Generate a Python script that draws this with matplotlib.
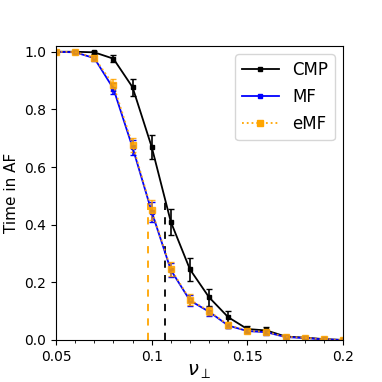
import matplotlib
matplotlib.use("Agg")
import matplotlib.pyplot as plt
from matplotlib.ticker import MultipleLocator
from matplotlib.lines import Line2D

nu = [0.05, 0.06, 0.07, 0.08, 0.09, 0.10, 0.11, 0.12, 0.13, 0.14, 0.15, 0.16, 0.17, 0.18, 0.19, 0.20]
cmp_y = [1.0, 1.0, 0.998, 0.976, 0.877, 0.670, 0.410, 0.245, 0.148, 0.079, 0.038, 0.033, 0.012, 0.008, 0.003, 0.0]
cmp_err = [0.0, 0.003, 0.005, 0.012, 0.03, 0.042, 0.045, 0.04, 0.03, 0.02, 0.012, 0.012, 0.005, 0.004, 0.002, 0.0]
mf_y = [1.0, 0.998, 0.978, 0.872, 0.668, 0.445, 0.243, 0.137, 0.098, 0.050, 0.031, 0.027, 0.010, 0.007, 0.002, 0.0]
mf_err = [0.0, 0.003, 0.01, 0.02, 0.025, 0.035, 0.025, 0.018, 0.015, 0.01, 0.008, 0.008, 0.004, 0.003, 0.001, 0.0]
emf_y = [1.0, 0.999, 0.980, 0.885, 0.677, 0.450, 0.247, 0.140, 0.100, 0.052, 0.032, 0.028, 0.011, 0.008, 0.002, 0.0]
emf_err = [0.0, 0.003, 0.01, 0.02, 0.025, 0.035, 0.025, 0.018, 0.015, 0.01, 0.008, 0.008, 0.004, 0.003, 0.001, 0.0]
thr_x = [0.107, 0.0979]
thr_h = [0.48, 0.475]
thr_colors = ["black", "orange"]

fig = plt.figure(figsize=(3.82, 3.82), dpi=100)
ax = fig.add_axes([0.1466, 0.11, 0.7514, 0.7696])

ax.errorbar(nu, cmp_y, yerr=cmp_err, color="black", marker="s", markersize=3,
            lw=1.3, capsize=2.5, elinewidth=1.2)
ax.errorbar(nu, mf_y, yerr=mf_err, color="blue", marker="s", markersize=3,
            lw=1.3, capsize=2.5, elinewidth=1.2)
ax.errorbar(nu, emf_y, yerr=emf_err, color="orange", marker="s", markersize=4,
            lw=1.3, ls=":", capsize=2.5, elinewidth=1.2, alpha=0.85)
for x, h, c in zip(thr_x, thr_h, thr_colors):
    ax.vlines(x, 0, h, colors=c, linestyles=(0, (4, 4)), lw=1.3)

ax.set_xlim(0.05, 0.2)
ax.set_ylim(0, 1.02)
ax.set_xticks([0.05, 0.1, 0.15, 0.2])
ax.set_xticklabels(["0.05", "0.1", "0.15", "0.2"])
ax.xaxis.set_minor_locator(MultipleLocator(0.01))
ax.set_yticks([0, 0.2, 0.4, 0.6, 0.8, 1.0])
ax.tick_params(labelsize=10)
ax.set_xlabel(r"$\nu_\perp$", fontsize=14, labelpad=-1)
ax.set_ylabel("Time in AF", fontsize=11)

handles = [
    Line2D([], [], color="black", marker="s", markersize=3, lw=1.3),
    Line2D([], [], color="blue", marker="s", markersize=3, lw=1.3),
    Line2D([], [], color="orange", marker="s", markersize=4, lw=1.3, ls=":"),
]
ax.legend(handles, ["CMP", "MF", "eMF"], loc="upper right", fontsize=12,
          handlelength=2.2, labelspacing=0.55)

fig.savefig("out.png", dpi=100)
